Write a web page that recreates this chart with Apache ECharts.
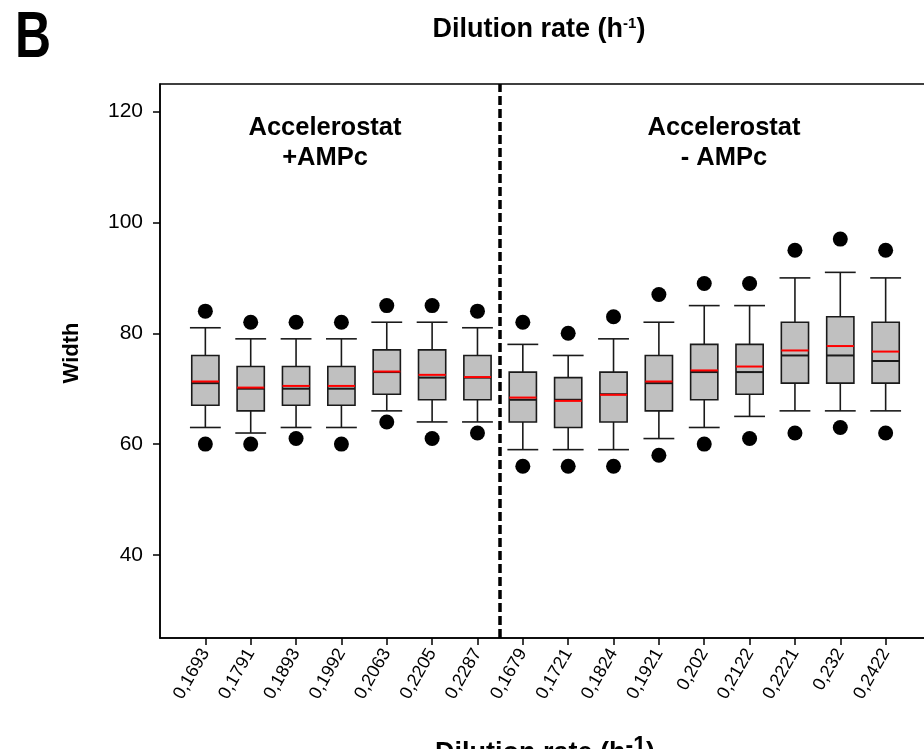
<!DOCTYPE html>
<html>
<head>
<meta charset="utf-8">
<script src="https://cdn.jsdelivr.net/npm/echarts@6/dist/echarts.min.js"></script>
<style>
  html, body { margin: 0; padding: 0; background: #fff; overflow: hidden; }
  /* the plot frame runs past the right edge of the window */
  #chart { width: 931px; height: 749px; }
</style>
</head>
<body>
<div id="chart"></div>
<script>
// Dilution-rate categories (7 with AMPc, 9 without)
const categories = ['0,1693','0,1791','0,1893','0,1992','0,2063','0,2205','0,2287',
                    '0,1679','0,1721','0,1824','0,1921','0,202','0,2122','0,2221','0,232','0,2422'];
// Box statistics per category
const whiskerLow  = [63, 62, 63, 63, 66, 64, 64, 59, 59, 59, 61, 63, 65, 66, 66, 66];
const q1          = [67, 66, 67, 67, 69, 68, 68, 64, 63, 64, 66, 68, 69, 71, 71, 71];
const median      = [71, 70, 70, 70, 73, 72, 72, 68, 68, 69, 71, 73, 73, 76, 76, 75];
const q3          = [76, 74, 74, 74, 77, 77, 76, 73, 72, 73, 76, 78, 78, 82, 83, 82];
const whiskerHigh = [81, 79, 79, 79, 82, 82, 81, 78, 76, 79, 82, 85, 85, 90, 91, 90];
const mean        = [71.3, 70.2, 70.5, 70.5, 73.1, 72.5, 72.1, 68.4, 67.8, 68.9, 71.3, 73.3, 74.0, 76.9, 77.7, 76.7];
// 5th / 95th percentile points
const outlierLow  = [60, 60, 61, 60, 64, 61, 62, 56, 56, 56, 58, 60, 61, 62, 63, 62];
const outlierHigh = [84, 82, 82, 82, 85, 85, 84, 82, 80, 83, 87, 89, 89, 95, 97, 95];
// Y tick values
const yTicks = [40, 60, 80, 100, 120];
// Position of the separator between the two experiments
const separatorAt = 7.5;

const positions = categories.map((_, i) => i + 1);
const boxData = positions.map((p, i) => [p, whiskerLow[i], q1[i], median[i], q3[i], whiskerHigh[i], mean[i]]);
const pointData = [];
positions.forEach((p, i) => { pointData.push([p, outlierLow[i]]); pointData.push([p, outlierHigh[i]]); });

const FONT = '"Liberation Sans", Arial, sans-serif';
const EDGE = '#1a1a1a';

function renderBox(params, api) {
  const x = api.value(0);
  const lo = api.coord([x, api.value(1)]);
  const b1 = api.coord([x, api.value(2)]);
  const md = api.coord([x, api.value(3)]);
  const b3 = api.coord([x, api.value(4)]);
  const hi = api.coord([x, api.value(5)]);
  const mn = api.coord([x, api.value(6)]);
  const unit = api.size([1, 0])[0];
  const bw = unit * 0.6;
  const cw = unit * 0.68;
  const cx = lo[0];
  const line = (x1, y1, x2, y2, color, w) => ({
    type: 'line', shape: { x1, y1, x2, y2 },
    style: { stroke: color, lineWidth: w }
  });
  return {
    type: 'group',
    children: [
      line(cx, b3[1], cx, hi[1], EDGE, 1.6),
      line(cx, b1[1], cx, lo[1], EDGE, 1.6),
      line(cx - cw / 2, hi[1], cx + cw / 2, hi[1], EDGE, 1.6),
      line(cx - cw / 2, lo[1], cx + cw / 2, lo[1], EDGE, 1.6),
      { type: 'rect', shape: { x: cx - bw / 2, y: b3[1], width: bw, height: b1[1] - b3[1] },
        style: { fill: '#c0c0c0', stroke: EDGE, lineWidth: 1.6 } },
      line(cx - bw / 2, md[1], cx + bw / 2, md[1], EDGE, 2),
      line(cx - bw / 2, mn[1], cx + bw / 2, mn[1], '#ff0000', 2)
    ]
  };
}

const chart = echarts.init(document.getElementById('chart'), null, { renderer: 'canvas' });
chart.setOption({
  backgroundColor: '#fff',
  animation: false,
  grid: { left: 160, right: 0, top: 84, bottom: 111, show: true, borderColor: '#000', borderWidth: 1.5 },
  xAxis: {
    type: 'value', min: 0, max: 17,
    axisLine: { show: true, lineStyle: { color: '#000', width: 1.5 } },
    axisTick: { show: true, customValues: positions, length: 7, lineStyle: { color: '#000', width: 1.5 } },
    axisLabel: {
      customValues: positions, rotate: 60, margin: 12,
      formatter: v => categories[Math.round(v) - 1] || '',
      fontFamily: FONT, fontSize: 18, color: '#000'
    },
    splitLine: { show: false }
  },
  yAxis: {
    type: 'value', min: 25, max: 125,
    axisLine: { show: true, lineStyle: { color: '#000', width: 1.5 } },
    axisTick: { show: true, customValues: yTicks, length: 7, lineStyle: { color: '#000', width: 1.5 } },
    axisLabel: { customValues: yTicks, margin: 17, fontFamily: FONT, fontSize: 21, color: '#000' },
    splitLine: { show: false }
  },
  series: [
    {
      type: 'custom', renderItem: renderBox, data: boxData,
      encode: { x: 0, y: [1, 2, 3, 4, 5, 6] }, z: 3
    },
    {
      type: 'scatter', data: pointData, symbol: 'circle', symbolSize: 15,
      itemStyle: { color: '#000', opacity: 1 }, z: 4,
      markLine: {
        silent: true, symbol: ['none', 'none'], label: { show: false },
        lineStyle: { color: '#000', width: 3.5, type: [9, 4] },
        data: [{ xAxis: separatorAt }]
      }
    }
  ],
  graphic: [
    { type: 'text', x: 15, y: 39, scaleX: 0.78,
      style: { text: 'B', font: 'bold 64px ' + FONT, fill: '#000', verticalAlign: 'middle' } },
    { type: 'text', x: 539, y: 30,
      style: {
        text: '{a|Dilution rate (h}{s|-1}{a|)}', align: 'center', verticalAlign: 'middle',
        rich: {
          a: { font: 'bold 27px ' + FONT, fill: '#000' },
          s: { font: 'bold 15px ' + FONT, fill: '#000', padding: [0, 0, 13, 0] }
        }
      } },
    { type: 'text', x: 325, y: 143,
      style: { text: 'Accelerostat\n+AMPc', align: 'center', verticalAlign: 'middle',
               font: 'bold 25.5px ' + FONT, lineHeight: 30, fill: '#000' } },
    { type: 'text', x: 724, y: 143,
      style: { text: 'Accelerostat\n- AMPc', align: 'center', verticalAlign: 'middle',
               font: 'bold 25.5px ' + FONT, lineHeight: 30, fill: '#000' } },
    { type: 'text', x: 72, y: 353, rotation: Math.PI / 2,
      style: { text: 'Width', align: 'center', verticalAlign: 'middle',
               font: 'bold 22px ' + FONT, fill: '#000' } },
    { type: 'text', x: 545, y: 754,
      style: {
        text: '{a|Dilution rate (h}{s|-1}{a|)}', align: 'center', verticalAlign: 'middle',
        rich: {
          a: { font: 'bold 27px ' + FONT, fill: '#000' },
          s: { font: 'bold 23px ' + FONT, fill: '#000', padding: [0, 0, 14, 0] }
        }
      } }
  ]
});
</script>
</body>
</html>
